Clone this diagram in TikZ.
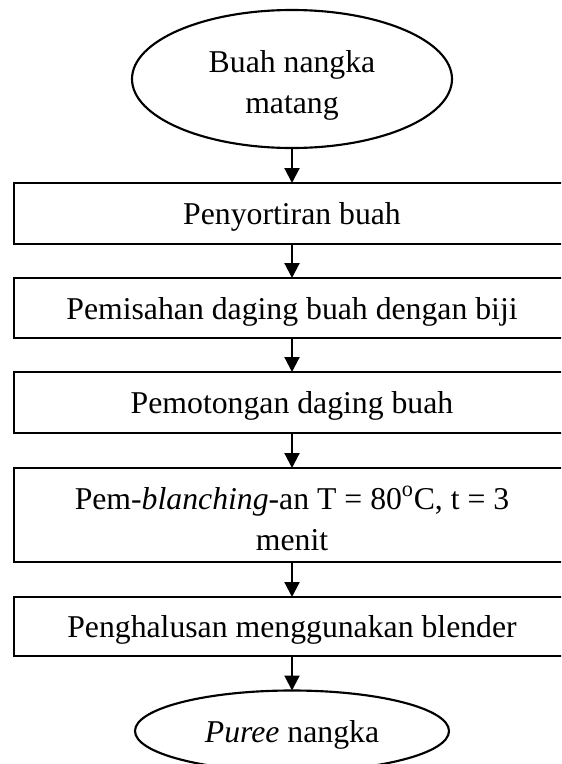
\documentclass[tikz,border=0pt]{standalone}
\usepackage{fontspec}
\setmainfont{Liberation Serif}
\usetikzlibrary{shapes.geometric,arrows.meta}
\newdimen\pxu \pxu=0.75pt
\begin{document}
\begin{tikzpicture}[x=0.75pt,y=-0.75pt,
  every node/.style={font=\fontsize{23.8}{30.75}\selectfont, outer sep=0pt, line width=1.6pt},
  stepbox/.style={draw, rectangle, minimum width=556\pxu, inner sep=0pt, text depth=0pt},
  oval/.style={draw, ellipse, inner sep=0pt},
  flow/.style={line width=1.6pt, -{Triangle[width=11.25pt,length=11.25pt]}}]
\useasboundingbox (0,0) rectangle (561,764);
\clip (0,0) rectangle (561,764);
\node[oval, minimum width=320\pxu, minimum height=138\pxu, align=center, text height=51pt, text depth=0pt] (e0) at (292,79) {Buah nangka\\matang};
\node[stepbox, minimum height=61\pxu] (b1) at (292,213.5) {Penyortiran buah};
\node[stepbox, minimum height=60\pxu] (b2) at (292,308) {Pemisahan daging buah dengan biji};
\node[stepbox, minimum height=61\pxu] (b3) at (292,402.5) {Pemotongan daging buah};
\node[stepbox, minimum height=94\pxu, align=center, text height=52.5pt, text depth=0pt] (b4) at (292,515) {Pem-\textit{blanching}-an T = 80\textsuperscript{o}C, t = 3\\menit};
\node[stepbox, minimum height=59\pxu] (b5) at (292,626.5) {Penghalusan menggunakan blender};
\node[oval, minimum width=314\pxu, minimum height=81\pxu, text depth=0pt] (e1) at (292,731) {\textit{Puree} nangka};
\draw[flow] (e0) -- (b1);
\draw[flow] (b1) -- (b2);
\draw[flow] (b2) -- (b3);
\draw[flow] (b3) -- (b4);
\draw[flow] (b4) -- (b5);
\draw[flow] (b5) -- (e1);
\end{tikzpicture}
\end{document}
